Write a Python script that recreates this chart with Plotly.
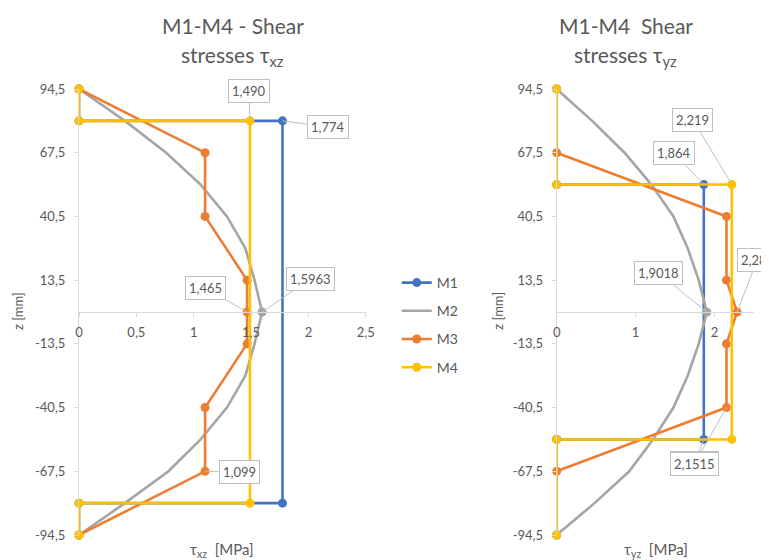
import plotly.graph_objects as go

# ---------------- data ----------------
series_names = ["M1", "M2", "M3", "M4"]

# left chart: tau_xz
m1_xz_z = [94.5, 81, 81, -81, -81, -94.5]
m1_xz_t = [0, 0, 1.774, 1.774, 0, 0]
m2_z = [94.5, 81, 67.5, 54, 40.5, 27, 13.5, 0, -13.5, -27, -40.5, -54, -67.5, -81, -94.5]
m2_xz_t = [0, 0.40, 0.76, 1.06, 1.29, 1.45, 1.53, 1.5963, 1.53, 1.45, 1.29, 1.06, 0.78, 0.40, 0]
m3_xz_z = [94.5, 67.5, 40.5, 13.5, 0, -13.5, -40.5, -67.5, -94.5]
m3_xz_t = [0, 1.099, 1.099, 1.465, 1.465, 1.465, 1.099, 1.099, 0]
m4_xz_z = [94.5, 81, 81, -81, -81, -94.5]
m4_xz_t = [0, 0, 1.490, 1.490, 0, 0]

# right chart: tau_yz
m1_yz_z = [94.5, 54, 54, -54, -54, -94.5]
m1_yz_t = [0, 0, 1.864, 1.864, 0, 0]
m2_yz_t = [0, 0.45, 0.86, 1.20, 1.48, 1.66, 1.80, 1.9018, 1.80, 1.66, 1.48, 1.22, 0.92, 0.48, 0]
m3_yz_z = [67.5, 40.5, 13.5, 0, -13.5, -40.5, -67.5]
m3_yz_t = [0, 2.1515, 2.1515, 2.286, 2.1515, 2.1515, 0]
m4_yz_z = [94.5, 54, 54, -54, -54, -94.5]
m4_yz_t = [0, 0, 2.219, 2.219, 0, 0]

z_ticks = [-94.5, -67.5, -40.5, -13.5, 13.5, 40.5, 67.5, 94.5]
z_tick_labels = ["-94,5", "-67,5", "-40,5", "-13,5", "13,5", "40,5", "67,5", "94,5"]
xz_ticks = [0, 0.5, 1, 1.5, 2, 2.5]
xz_tick_labels = ["0", "0,5", "1", "1,5", "2", "2,5"]
yz_ticks = [0, 1, 2]
yz_tick_labels = ["0", "1", "2"]

# data labels: (x, z, text, dx, dy)
labels_xz = [
    (m4_xz_t[2], m4_xz_z[2], "1,490", -1, -30),
    (m1_xz_t[2], m1_xz_z[2], "1,774", 45, 6),
    (m3_xz_t[4], m3_xz_z[4], "1,465", -42, -24),
    (m2_xz_t[7], m2_z[7], "1,5963", 48, -33),
    (m3_xz_t[7], m3_xz_z[7], "1,099", 34, 1),
]
labels_yz = [
    (m4_yz_t[2], m4_yz_z[2], "2,219", -39, -65),
    (m1_yz_t[2], m1_yz_z[2], "1,864", -30, -32),
    (m2_yz_t[7], m2_z[7], "1,9018", -48, -39),
    (m3_yz_t[3], m3_yz_z[3], "2,286", 20, -52),
    (m1_yz_t[3], m1_yz_z[3], "2,1515", -9, 24),
    (m3_yz_t[5], m3_yz_z[5], "2,1515", -32, 56),
]

# ---------------- style ----------------
OFF = 8  # page body margin
W, H = 769 - OFF, 560 - OFF
ML, MR, MT, MB = 79 - OFF, 14.5, 89 - OFF, 25
PW = W - ML - MR
PH = H - MT - MB
def px(xp):
    return (xp - OFF - ML) / PW
def py(yp):
    return 1 - (yp - OFF - MT) / PH

colors = {"M1": "#4472C4", "M2": "#A5A5A5", "M3": "#ED7D31", "M4": "#FFC000"}
FONT = "Lato, 'Open Sans', sans-serif"
TXT = "#595959"
AXC = "#D9D9D9"
LW = 2.6
MS = 9

fig = go.Figure()

def add(x, y, name, xa, ya, show, markers=True):
    fig.add_trace(go.Scatter(
        x=x, y=y, name=name, xaxis=xa, yaxis=ya,
        mode="lines+markers" if markers else "lines",
        line=dict(color=colors[name], width=LW),
        marker=dict(color=colors[name], size=MS),
        showlegend=show, legendgroup=name, cliponaxis=False,
    ))

# left
add(m1_xz_t, m1_xz_z, "M1", "x", "y", True)
add(m2_xz_t, m2_z, "M2", "x", "y", True, markers=False)
fig.add_trace(go.Scatter(x=[m2_xz_t[7]], y=[m2_z[7]], mode="markers", xaxis="x", yaxis="y",
                         marker=dict(color=colors["M2"], size=MS), showlegend=False, cliponaxis=False))
add(m3_xz_t, m3_xz_z, "M3", "x", "y", True)
add(m4_xz_t, m4_xz_z, "M4", "x", "y", True)
# right
add(m1_yz_t, m1_yz_z, "M1", "x2", "y2", False)
add(m2_yz_t, m2_z, "M2", "x2", "y2", False, markers=False)
fig.add_trace(go.Scatter(x=[m2_yz_t[7]], y=[m2_z[7]], mode="markers", xaxis="x2", yaxis="y2",
                         marker=dict(color=colors["M2"], size=MS), showlegend=False, cliponaxis=False))
add(m3_yz_t, m3_yz_z, "M3", "x2", "y2", False)
add(m4_yz_t, m4_yz_z, "M4", "x2", "y2", False)

annotations = []
def label(x, y, text, ax, ay, xr, yr):
    annotations.append(dict(
        x=x, y=y, xref=xr, yref=yr, text=text, showarrow=True, arrowhead=0,
        arrowwidth=1, arrowcolor="#BFBFBF", ax=ax, ay=ay, bgcolor="white",
        bordercolor="#BFBFBF", borderwidth=1, borderpad=3,
        font=dict(family=FONT, size=13, color=TXT),
    ))
for (x, y, t, ax, ay) in labels_xz:
    label(x, y, t, ax, ay, "x", "y")
for (x, y, t, ax, ay) in labels_yz:
    label(x, y, t, ax, ay, "x2", "y2")

def text(xp, yp, t, size, angle=0):
    annotations.append(dict(
        x=px(xp), y=py(yp), xref="paper", yref="paper", text=t, showarrow=False,
        textangle=angle, xanchor="center", yanchor="middle",
        font=dict(family=FONT, size=size, color=TXT),
    ))

text(233, 25, "M1-M4 - Shear", 21)
text(233, 56, "stresses τ<sub>xz</sub>", 21)
text(626, 25, "M1-M4  Shear", 21)
text(626, 56, "stresses τ<sub>yz</sub>", 21)
text(18, 311, "z [mm]", 13, -90)
text(498, 311, "z [mm]", 13, -90)
text(222, 550, "τ<sub>xz</sub>  [MPa]", 15)
text(656, 550, "τ<sub>yz</sub>  [MPa]", 15)

x1_dom = [0, px(366)]
x2_dom = [px(557), 1]

common_x = dict(showgrid=False, zeroline=False, showline=True, linecolor=AXC, linewidth=1,
                ticks="outside", ticklen=4, tickcolor=AXC, anchor="free", position=0.5,
                tickfont=dict(family=FONT, size=13, color=TXT), ticklabelstandoff=4)
common_y = dict(showgrid=False, zeroline=False, showline=True, linecolor=AXC, linewidth=1,
                ticks="outside", ticklen=4, tickcolor=AXC, range=[-94.5, 94.5],
                tickvals=z_ticks, ticktext=z_tick_labels,
                tickfont=dict(family=FONT, size=13, color=TXT), ticklabelstandoff=6)

fig.update_layout(
    width=W, height=H,
    margin=dict(l=ML, r=MR, t=MT, b=MB, autoexpand=False),
    paper_bgcolor="white", plot_bgcolor="white",
    xaxis=dict(domain=x1_dom, range=[0, 2.5], tickvals=xz_ticks, ticktext=xz_tick_labels, **common_x),
    yaxis=dict(domain=[0, 1], anchor="x", **common_y),
    xaxis2=dict(domain=x2_dom, range=[0, 2.5], tickvals=yz_ticks, ticktext=yz_tick_labels, **common_x),
    yaxis2=dict(domain=[0, 1], anchor="x2", **common_y),
    legend=dict(x=px(397), y=py(267), xanchor="left", yanchor="top",
                font=dict(family=FONT, size=14, color=TXT), tracegroupgap=7,
                traceorder="grouped", bgcolor="rgba(0,0,0,0)"),
    annotations=annotations,
    showlegend=True,
)

fig.write_html("out.html")
